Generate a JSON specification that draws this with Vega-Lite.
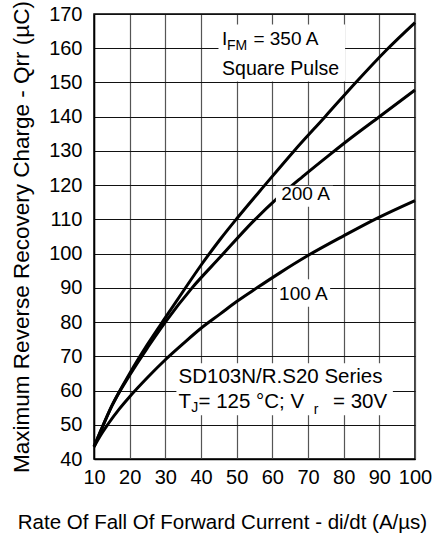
{
  "$schema": "https://vega.github.io/schema/vega-lite/v6.json",
  "autosize": {"type": "none"},
  "padding": {"left": 94, "top": 14, "right": 23, "bottom": 78},
  "width": 321,
  "height": 445,
  "resolve": {"axis": {"x": "independent", "y": "independent"}, "scale": {"x": "shared", "y": "shared"}},
  "config": {
    "font": "Liberation Sans",
    "view": {"stroke": "#000", "strokeWidth": 1.5},
    "axis": {"labelFont": "Liberation Sans", "titleFont": "Liberation Sans", "labelColor": "#000", "titleColor": "#000", "titleFontWeight": "normal", "ticks": false, "domainColor": "#000", "domainWidth": 1.5, "gridWidth": 1.2, "labelOverlap": false, "labelFlush": false},
    "axisX": {"tickCount": 20},
    "axisY": {"tickCount": 20}
  },
  "datasets": {
    "curves": [
      {"series": "350 A", "rate": 10, "qrr": 43.6},
      {"series": "350 A", "rate": 12, "qrr": 48.5},
      {"series": "350 A", "rate": 15, "qrr": 55.5},
      {"series": "350 A", "rate": 20, "qrr": 65},
      {"series": "350 A", "rate": 25, "qrr": 73.5},
      {"series": "350 A", "rate": 30, "qrr": 81.3},
      {"series": "350 A", "rate": 35, "qrr": 89},
      {"series": "350 A", "rate": 40, "qrr": 96.6},
      {"series": "350 A", "rate": 45.4, "qrr": 104.2},
      {"series": "350 A", "rate": 50, "qrr": 110.2},
      {"series": "350 A", "rate": 57.9, "qrr": 120},
      {"series": "350 A", "rate": 66.1, "qrr": 130},
      {"series": "350 A", "rate": 74.8, "qrr": 140},
      {"series": "350 A", "rate": 83.4, "qrr": 150},
      {"series": "350 A", "rate": 92, "qrr": 159.5},
      {"series": "350 A", "rate": 100, "qrr": 167.5},
      {"series": "200 A", "rate": 10, "qrr": 43.6},
      {"series": "200 A", "rate": 12, "qrr": 48.5},
      {"series": "200 A", "rate": 15, "qrr": 55.5},
      {"series": "200 A", "rate": 20, "qrr": 64.5},
      {"series": "200 A", "rate": 25, "qrr": 72.5},
      {"series": "200 A", "rate": 30, "qrr": 80},
      {"series": "200 A", "rate": 37.5, "qrr": 90},
      {"series": "200 A", "rate": 45.4, "qrr": 99},
      {"series": "200 A", "rate": 54.7, "qrr": 109.5},
      {"series": "200 A", "rate": 61.5, "qrr": 116.3},
      {"series": "200 A", "rate": 68.5, "qrr": 122.5},
      {"series": "200 A", "rate": 76.2, "qrr": 129},
      {"series": "200 A", "rate": 81.3, "qrr": 133.2},
      {"series": "200 A", "rate": 90, "qrr": 140},
      {"series": "200 A", "rate": 100, "qrr": 147.8},
      {"series": "100 A", "rate": 10, "qrr": 43.6},
      {"series": "100 A", "rate": 12, "qrr": 47.2},
      {"series": "100 A", "rate": 14, "qrr": 50.3},
      {"series": "100 A", "rate": 17, "qrr": 54.5},
      {"series": "100 A", "rate": 20, "qrr": 58.2},
      {"series": "100 A", "rate": 25, "qrr": 63.8},
      {"series": "100 A", "rate": 30, "qrr": 69},
      {"series": "100 A", "rate": 35, "qrr": 73.7},
      {"series": "100 A", "rate": 40, "qrr": 78.2},
      {"series": "100 A", "rate": 45.4, "qrr": 82.4},
      {"series": "100 A", "rate": 50, "qrr": 86},
      {"series": "100 A", "rate": 55.7, "qrr": 90},
      {"series": "100 A", "rate": 62, "qrr": 94.3},
      {"series": "100 A", "rate": 70.1, "qrr": 99.5},
      {"series": "100 A", "rate": 80, "qrr": 105.2},
      {"series": "100 A", "rate": 89.3, "qrr": 110.3},
      {"series": "100 A", "rate": 100, "qrr": 115.5}
    ],
    "one": [{}]
  },
  "layer": [
    {
      "data": {"name": "curves"},
      "mark": {"type": "line", "color": "#000", "strokeWidth": 3, "interpolate": "monotone"},
      "encoding": {
        "x": {"field": "rate", "type": "quantitative", "title": "Rate Of Fall Of Forward Current - di/dt (A/µs)",
          "scale": {"domain": [10, 100], "nice": false, "zero": false},
          "axis": {"values": [10, 20, 30, 40, 50, 60, 70, 80, 90, 100], "tickCount": 20, "labelFontSize": 20, "labelPadding": 8, "titleFontSize": 20.5, "titleX": 128, "titleY": 69, "titleBaseline": "alphabetic", "gridColor": "#555"}},
        "y": {"field": "qrr", "type": "quantitative", "title": "Maximum Reverse Recovery Charge - Qrr (µC)",
          "scale": {"domain": [40, 170], "nice": false, "zero": false},
          "axis": {"values": [40, 50, 60, 70, 80, 90, 100, 110, 120, 130, 140, 150, 160, 170], "tickCount": 20, "labelFontSize": 20, "labelPadding": 12, "titleFontSize": 22.5, "titlePadding": 15, "gridColor": "#111"}},
        "detail": {"field": "series"}
      }
    },
    {"data": {"name": "one"}, "mark": {"type": "rect", "fill": "#fff"}, "encoding": {"x": {"datum": 44.9, "axis": null}, "x2": {"datum": 80.4}, "y": {"datum": 150.3, "axis": null}, "y2": {"datum": 166.9}}},
    {"data": {"name": "one"}, "mark": {"type": "rect", "fill": "#fff"}, "encoding": {"x": {"datum": 33.1, "axis": null}, "x2": {"datum": 93.8}, "y": {"datum": 52.8, "axis": null}, "y2": {"datum": 68.0}}},
    {"data": {"name": "one"}, "mark": {"type": "rect", "fill": "#fff"}, "encoding": {"x": {"datum": 61.0, "axis": null}, "x2": {"datum": 77.0}, "y": {"datum": 113.7, "axis": null}, "y2": {"datum": 119.8}}},
    {"data": {"name": "one"}, "mark": {"type": "rect", "fill": "#fff"}, "encoding": {"x": {"datum": 61.3, "axis": null}, "x2": {"datum": 76.2}, "y": {"datum": 84.5, "axis": null}, "y2": {"datum": 92.5}}},
    {"data": {"name": "one"}, "mark": {"type": "text", "fontSize": 19, "align": "left", "baseline": "alphabetic", "color": "#000"}, "encoding": {"x": {"datum": 45.9, "axis": null}, "y": {"datum": 161.0, "axis": null}, "text": {"value": "I"}}},
    {"data": {"name": "one"}, "mark": {"type": "text", "fontSize": 14, "align": "left", "baseline": "alphabetic", "color": "#000"}, "encoding": {"x": {"datum": 47.3, "axis": null}, "y": {"datum": 159.4, "axis": null}, "text": {"value": "FM"}}},
    {"data": {"name": "one"}, "mark": {"type": "text", "fontSize": 19, "align": "left", "baseline": "alphabetic", "color": "#000"}, "encoding": {"x": {"datum": 54.7, "axis": null}, "y": {"datum": 161.0, "axis": null}, "text": {"value": "= 350 A"}}},
    {"data": {"name": "one"}, "mark": {"type": "text", "fontSize": 19.5, "align": "left", "baseline": "alphabetic", "color": "#000"}, "encoding": {"x": {"datum": 45.9, "axis": null}, "y": {"datum": 152.3, "axis": null}, "text": {"value": "Square Pulse"}}},
    {"data": {"name": "one"}, "mark": {"type": "text", "fontSize": 19, "align": "center", "baseline": "alphabetic", "color": "#000"}, "encoding": {"x": {"datum": 69.3, "axis": null}, "y": {"datum": 115.7, "axis": null}, "text": {"value": "200 A"}}},
    {"data": {"name": "one"}, "mark": {"type": "text", "fontSize": 19, "align": "center", "baseline": "alphabetic", "color": "#000"}, "encoding": {"x": {"datum": 68.7, "axis": null}, "y": {"datum": 86.5, "axis": null}, "text": {"value": "100 A"}}},
    {"data": {"name": "one"}, "mark": {"type": "text", "fontSize": 20.5, "align": "left", "baseline": "alphabetic", "color": "#000"}, "encoding": {"x": {"datum": 33.7, "axis": null}, "y": {"datum": 62.1, "axis": null}, "text": {"value": "SD103N/R.S20 Series"}}},
    {"data": {"name": "one"}, "mark": {"type": "text", "fontSize": 20.5, "align": "left", "baseline": "alphabetic", "color": "#000"}, "encoding": {"x": {"datum": 33.7, "axis": null}, "y": {"datum": 54.8, "axis": null}, "text": {"value": "T"}}},
    {"data": {"name": "one"}, "mark": {"type": "text", "fontSize": 14, "align": "left", "baseline": "alphabetic", "color": "#000"}, "encoding": {"x": {"datum": 37.3, "axis": null}, "y": {"datum": 53.8, "axis": null}, "text": {"value": "J"}}},
    {"data": {"name": "one"}, "mark": {"type": "text", "fontSize": 20.5, "align": "left", "baseline": "alphabetic", "color": "#000"}, "encoding": {"x": {"datum": 39.3, "axis": null}, "y": {"datum": 54.8, "axis": null}, "text": {"value": "= 125 °C; V"}}},
    {"data": {"name": "one"}, "mark": {"type": "text", "fontSize": 14, "align": "left", "baseline": "alphabetic", "color": "#000"}, "encoding": {"x": {"datum": 71.6, "axis": null}, "y": {"datum": 53.2, "axis": null}, "text": {"value": "r"}}},
    {"data": {"name": "one"}, "mark": {"type": "text", "fontSize": 20.5, "align": "left", "baseline": "alphabetic", "color": "#000"}, "encoding": {"x": {"datum": 77.0, "axis": null}, "y": {"datum": 54.8, "axis": null}, "text": {"value": "= 30V"}}}
  ]
}
